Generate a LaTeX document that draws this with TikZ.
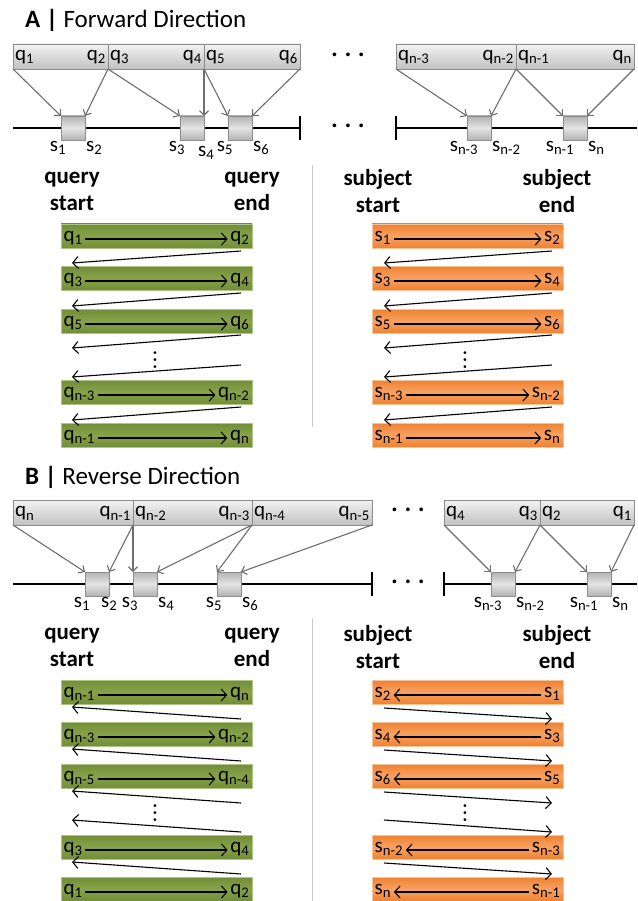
\documentclass[tikz,border=0pt]{standalone}
\usepackage{fontspec}
\setmainfont{Carlito}
\usetikzlibrary{arrows.meta}

\definecolor{qgray}{HTML}{8C8C8C}
\definecolor{arrgray}{HTML}{6E6E6E}
\definecolor{olivemid}{HTML}{86A34A}
\definecolor{olivedk}{HTML}{718E37}
\definecolor{oliveedge}{HTML}{AFC588}
\definecolor{orngmid}{HTML}{F8A262}
\definecolor{orngdk}{HTML}{EF8131}
\definecolor{orngedge}{HTML}{F9C39A}

\tikzset{
  qseg/.style={draw=qgray, top color=gray!10, bottom color=gray!48,
    minimum height=25pt, inner sep=0pt, outer sep=0pt, anchor=north west},
  qlab/.style={font=\fontsize{21}{23}\selectfont, inner sep=2pt},
  sbox/.style={draw=qgray, top color=gray!60, bottom color=gray!60, middle color=gray!22,
    minimum width=24pt, minimum height=24pt, inner sep=0pt, outer sep=0pt},
  slab/.style={font=\fontsize{21}{23}\selectfont, inner sep=1pt},
  maparr/.style={draw=arrgray, line width=1.1pt, -{Straight Barb[length=4.5pt,width=9pt]}},
  axis/.style={line width=1.2pt},
  gbar/.style={draw=oliveedge, top color=olivedk, bottom color=olivedk, middle color=olivemid,
    minimum width=191pt, minimum height=24pt, inner sep=0pt, outer sep=0pt},
  obar/.style={draw=orngedge, top color=orngdk, bottom color=orngdk, middle color=orngmid,
    minimum width=191pt, minimum height=24pt, inner sep=0pt, outer sep=0pt},
  blab/.style={font=\fontsize{21}{23}\selectfont, inner sep=2.5pt},
  seqarr/.style={line width=1.1pt, -{Straight Barb[length=5.5pt,width=12pt]}},
  hdr/.style={font=\bfseries\fontsize{23}{27}\selectfont, align=center},
  ttl/.style={font=\fontsize{25}{28}\selectfont, anchor=west, inner sep=0pt},
  hdots/.style={font=\bfseries\fontsize{20}{22}\selectfont},
  vdots/.style={font=\fontsize{19}{20}\selectfont, rotate=90, inner sep=0pt},
  divider/.style={draw=gray!40, line width=1pt}
}

\begin{document}
\begin{tikzpicture}[x=1pt,y=-1pt]
\useasboundingbox (0,0) rectangle (637,901);

% ---------- A: forward ----------
\node[ttl] (ttla) at (25,20) {{\bfseries A |} Forward Direction};

% subject axis
\coordinate (axa1) at (13,128);
\coordinate (axa2) at (300,128);
\coordinate (axa3) at (396,128);
\coordinate (axa4) at (637,128);
\draw[axis] (axa1) -- (axa2);
\draw[axis] ([yshift=12pt]axa2) -- ([yshift=-12pt]axa2);
\draw[axis] (axa3) -- (axa4);
\draw[axis] ([yshift=12pt]axa3) -- ([yshift=-12pt]axa3);
\node[hdots] (dota1) at (348,57) {·\hspace{8pt}·\hspace{8pt}·};
\node[hdots] (dota2) at (348,128) {·\hspace{8pt}·\hspace{8pt}·};

% query bar
\node[qseg, minimum width=95pt] (qa1) at (13,44) {};
\node[qseg, minimum width=96pt] (qa2) at (qa1.north east) {};
\node[qseg, minimum width=96pt] (qa3) at (qa2.north east) {};
\node[qseg, minimum width=120pt] (qa4) at (396,44) {};
\node[qseg, minimum width=118pt] (qa5) at (qa4.north east) {};
\foreach \n/\l/\r in {qa1/1/2, qa2/3/4, qa3/5/6, qa4/n-3/n-2, qa5/n-1/n}{
  \node[qlab, anchor=mid west] (l\n) at ([yshift=-2pt]\n.west) {q\textsubscript{\l}};
  \node[qlab, anchor=mid east] (r\n) at ([yshift=-2pt]\n.east) {q\textsubscript{\r}};
}

% hits on the subject
\node[sbox] (sa1) at (73,128) {};
\node[sbox] (sa2) at (192,128) {};
\node[sbox] (sa3) at (240,128) {};
\node[sbox] (sa4) at (479,128) {};
\node[sbox] (sa5) at (575,128) {};
\foreach \i in {1,...,5}{
  \draw[maparr] (qa\i.south west) -- (sa\i.north west);
  \draw[maparr] (qa\i.south east) -- (sa\i.north east);
}
\foreach \b/\l in {sa1/1, sa2/3, sa3/5, sa4/n-3, sa5/n-1}
  \node[slab, anchor=north] (ls\b) at ([xshift=-3pt]\b.south west) {s\textsubscript{\l}};
\foreach \b/\r/\dx/\dy in {sa1/2/0/0, sa2/4/-7/-5, sa3/6/0/0, sa4/n-2/0/0, sa5/n/0/0}
  \node[slab, anchor=north west] (rs\b) at ([xshift=\dx pt,yshift=\dy pt]\b.south east) {s\textsubscript{\r}};

% order lists
\node[hdr] (hqsa) at (72,191) {query\\start};
\node[hdr] (hqea) at (252,191) {query\\end};
\node[hdr] (hssa) at (378,191) {subject\\start};
\node[hdr] (hsea) at (557,191) {subject\\end};
\coordinate (diva1) at (312,165);
\coordinate (diva2) at (312,427);
\draw[divider] (diva1) -- (diva2);

\foreach \i/\y/\l/\r in {1/236/1/2, 2/278/3/4, 3/321/5/6, 4/392/n-3/n-2, 5/435/n-1/n}{
  \node[gbar] (ga\i) at (156.5,\y) {};
  \node[blab, anchor=mid west] (gal\i) at ([yshift=-3pt]ga\i.west) {q\textsubscript{\l}};
  \node[blab, anchor=mid east] (gar\i) at ([yshift=-3pt]ga\i.east) {q\textsubscript{\r}};
  \draw[seqarr] (gal\i.mid east) -- (gar\i.mid west);
  \node[obar] (oa\i) at (467.5,\y) {};
  \node[blab, anchor=mid west] (oal\i) at ([yshift=-3pt]oa\i.west) {s\textsubscript{\l}};
  \node[blab, anchor=mid east] (oar\i) at ([yshift=-3pt]oa\i.east) {s\textsubscript{\r}};
  \draw[seqarr] (oal\i.mid east) -- (oar\i.mid west);
}
\foreach \i/\j in {1/2, 2/3, 4/5}{
  \draw[seqarr] ([xshift=-11pt,yshift=-3pt]ga\i.south east) -- ([xshift=11pt,yshift=3pt]ga\j.north west);
  \draw[seqarr] ([xshift=-11pt,yshift=-3pt]oa\i.south east) -- ([xshift=12pt,yshift=3pt]oa\j.north west);
}
\coordinate (gad1) at (72,348);
\coordinate (gad2) at (241,365);
\coordinate (oad1) at (384,348);
\coordinate (oad2) at (552,365);
\draw[seqarr] ([xshift=-11pt,yshift=-2pt]ga3.south east) -- (gad1);
\draw[seqarr] (gad2) -- ([xshift=11pt,yshift=3pt]ga4.north west);
\draw[seqarr] ([xshift=-11pt,yshift=-2pt]oa3.south east) -- (oad1);
\draw[seqarr] (oad2) -- ([xshift=12pt,yshift=3pt]oa4.north west);
\node[vdots] (vda1) at (157,360) {·\hspace{2pt}·\hspace{2pt}·};
\node[vdots] (vda2) at (467,360) {·\hspace{2pt}·\hspace{2pt}·};

% ---------- B: reverse ----------
\node[ttl] (ttlb) at (25,477) {{\bfseries B |} Reverse Direction};

\coordinate (axb1) at (13,584);
\coordinate (axb2) at (372,584);
\coordinate (axb3) at (444,584);
\coordinate (axb4) at (637,584);
\draw[axis] (axb1) -- (axb2);
\draw[axis] ([yshift=12pt]axb2) -- ([yshift=-12pt]axb2);
\draw[axis] (axb3) -- (axb4);
\draw[axis] ([yshift=12pt]axb3) -- ([yshift=-12pt]axb3);
\node[hdots] (dotb1) at (408,512) {·\hspace{8pt}·\hspace{8pt}·};
\node[hdots] (dotb2) at (408,584) {·\hspace{8pt}·\hspace{8pt}·};

\node[qseg, minimum width=120pt] (qb1) at (13,500) {};
\node[qseg, minimum width=119pt] (qb2) at (qb1.north east) {};
\node[qseg, minimum width=120pt] (qb3) at (qb2.north east) {};
\node[qseg, minimum width=96pt] (qb4) at (444,500) {};
\node[qseg, minimum width=94pt] (qb5) at (qb4.north east) {};
\foreach \n/\l/\r in {qb1/n/n-1, qb2/n-2/n-3, qb3/n-4/n-5, qb4/4/3, qb5/2/1}{
  \node[qlab, anchor=mid west] (l\n) at ([yshift=-2pt]\n.west) {q\textsubscript{\l}};
  \node[qlab, anchor=mid east] (r\n) at ([yshift=-2pt]\n.east) {q\textsubscript{\r}};
}

\node[sbox] (sb1) at (97,584) {};
\node[sbox] (sb2) at (145,584) {};
\node[sbox] (sb3) at (229,584) {};
\node[sbox] (sb4) at (503,584) {};
\node[sbox] (sb5) at (599,584) {};
\foreach \i in {1,...,5}{
  \draw[maparr] (qb\i.south west) -- (sb\i.north west);
  \draw[maparr] (qb\i.south east) -- (sb\i.north east);
}
\foreach \b/\l in {sb1/1, sb2/3, sb3/5, sb4/n-3, sb5/n-1}
  \node[slab, anchor=north] (ls\b) at ([xshift=-3pt]\b.south west) {s\textsubscript{\l}};
\foreach \b/\r/\dx/\dy in {sb1/2/-9/0, sb2/4/0/0, sb3/6/0/0, sb4/n-2/0/0, sb5/n/0/0}
  \node[slab, anchor=north west] (rs\b) at ([xshift=\dx pt,yshift=\dy pt]\b.south east) {s\textsubscript{\r}};

\node[hdr] (hqsb) at (72,647) {query\\start};
\node[hdr] (hqeb) at (252,647) {query\\end};
\node[hdr] (hssb) at (378,647) {subject\\start};
\node[hdr] (hseb) at (557,647) {subject\\end};
\coordinate (divb1) at (312,618);
\coordinate (divb2) at (312,901);
\draw[divider] (divb1) -- (divb2);

\foreach \i/\y/\l/\r/\sl/\sr in {1/692/n-1/n/2/1, 2/734/n-3/n-2/4/3, 3/776/n-5/n-4/6/5,
    4/847/3/4/n-2/n-3, 5/889/1/2/n/n-1}{
  \node[gbar] (gb\i) at (156.5,\y) {};
  \node[blab, anchor=mid west] (gbl\i) at ([yshift=-3pt]gb\i.west) {q\textsubscript{\l}};
  \node[blab, anchor=mid east] (gbr\i) at ([yshift=-3pt]gb\i.east) {q\textsubscript{\r}};
  \draw[seqarr] (gbl\i.mid east) -- (gbr\i.mid west);
  \node[obar] (ob\i) at (467.5,\y) {};
  \node[blab, anchor=mid west] (obl\i) at ([yshift=-3pt]ob\i.west) {s\textsubscript{\sl}};
  \node[blab, anchor=mid east] (obr\i) at ([yshift=-3pt]ob\i.east) {s\textsubscript{\sr}};
  \draw[seqarr] (obr\i.mid west) -- (obl\i.mid east);
}
\foreach \i/\j in {1/2, 2/3, 4/5}{
  \draw[seqarr] ([xshift=-11pt,yshift=3pt]gb\j.north east) -- ([xshift=11pt,yshift=-3pt]gb\i.south west);
  \draw[seqarr] ([xshift=12pt,yshift=-4pt]ob\i.south west) -- ([xshift=-11pt,yshift=3pt]ob\j.north east);
}
\coordinate (gbd1) at (241,803);
\coordinate (gbd2) at (72,820);
\coordinate (obd1) at (552,803);
\coordinate (obd2) at (384,820);
\draw[seqarr] (gbd1) -- ([xshift=11pt,yshift=-3pt]gb3.south west);
\draw[seqarr] ([xshift=-11pt,yshift=3pt]gb4.north east) -- (gbd2);
\draw[seqarr] ([xshift=12pt,yshift=-4pt]ob3.south west) -- (obd1);
\draw[seqarr] (obd2) -- ([xshift=-11pt,yshift=3pt]ob4.north east);
\node[vdots] (vdb1) at (157,813) {·\hspace{2pt}·\hspace{2pt}·};
\node[vdots] (vdb2) at (467,813) {·\hspace{2pt}·\hspace{2pt}·};
\end{tikzpicture}
\end{document}
